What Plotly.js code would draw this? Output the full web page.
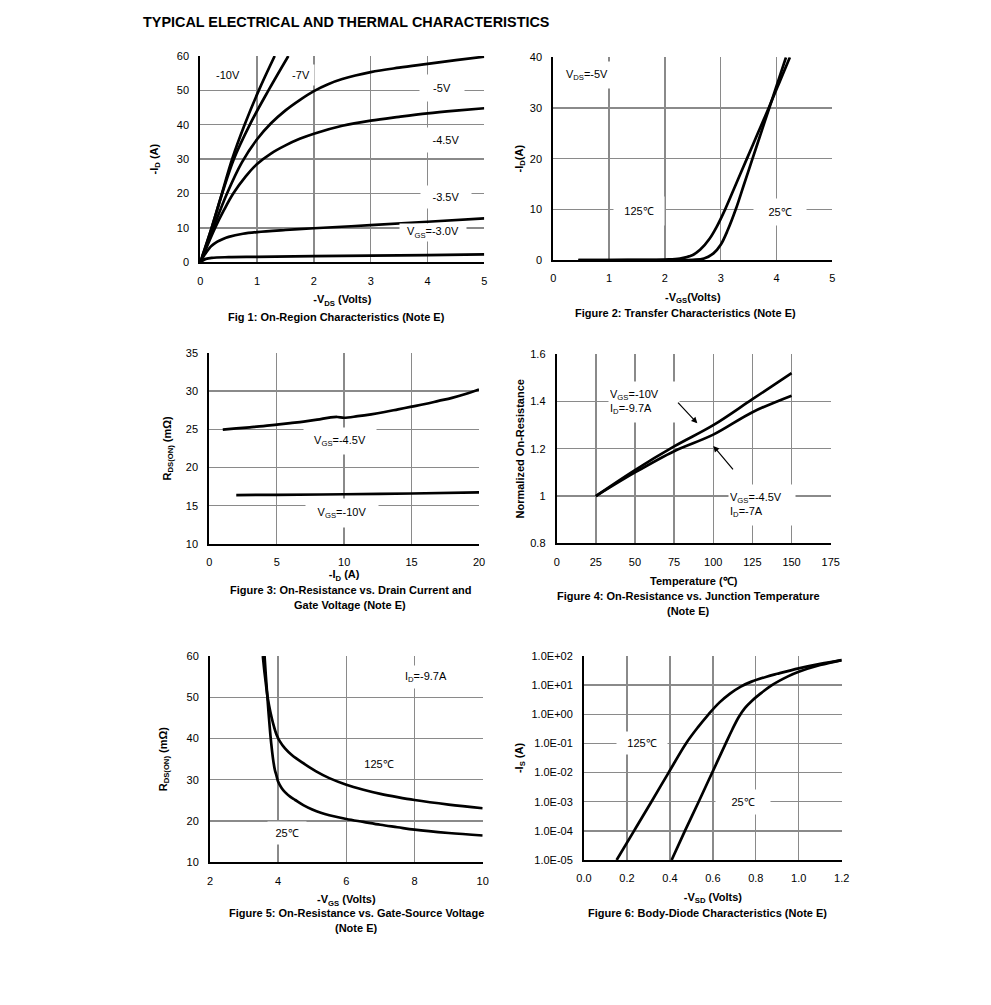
<!DOCTYPE html>
<html>
<head>
<meta charset="utf-8">
<script src="https://cdn.plot.ly/plotly-3.0.1.min.js"></script>
<style>html,body{margin:0;padding:0;background:#fff;}#chart{width:991px;height:1005px;}</style>
</head>
<body>
<div id="chart"></div>
<script>
// ---------- Data ----------
// Fig 1: On-region characteristics, -VDS (V) vs -ID (A)
const fig1_vds_10 = [0, 0.2, 0.38, 0.56, 0.78, 1.03, 1.31];
const fig1_id_10  = [0, 10, 20, 30, 40, 50, 60];
const fig1_vds_7  = [0, 0.2, 0.385, 0.59, 0.87, 1.2, 1.55];
const fig1_id_7   = [0, 10, 20, 30, 40, 50, 60];
const fig1_vds_5  = [0, 0.23, 0.47, 0.73, 1.0, 1.25, 1.5, 1.75, 2, 2.25, 2.5, 3, 3.5, 4, 4.5, 5];
const fig1_id_5   = [0, 10, 20, 29, 35.8, 40.5, 44.2, 47.2, 49.8, 51.8, 53.3, 55.3, 56.6, 57.7, 58.8, 59.8];
const fig1_vds_45 = [0, 0.26, 0.42, 0.58, 0.8, 1.0, 1.25, 1.5, 1.75, 2, 2.5, 3, 3.5, 4, 4.5, 5];
const fig1_id_45  = [0, 10, 15.3, 20, 25, 28.6, 31.7, 34, 35.9, 37.4, 39.7, 41.2, 42.3, 43.3, 44.1, 44.8];
const fig1_vds_35 = [0, 0.05, 0.1, 0.15, 0.2, 0.3, 0.4, 0.5, 0.75, 1, 1.5, 2, 3, 4, 5];
const fig1_id_35  = [0, 1.5, 2.8, 3.9, 4.8, 6.0, 6.8, 7.4, 8.3, 8.8, 9.4, 9.9, 10.8, 11.8, 12.8];
const fig1_vds_3  = [0, 0.05, 0.1, 0.2, 0.5, 1, 2, 3, 4, 5];
const fig1_id_3   = [0, 0.6, 1.0, 1.3, 1.5, 1.6, 1.8, 1.95, 2.1, 2.3];

// Fig 2: Transfer characteristics, -VGS (V) vs -ID (A)
const fig2_vgs_125 = [0.45, 1, 1.5, 2, 2.27, 2.5, 2.63, 2.8, 2.93, 3.08, 3.275, 3.47, 3.665, 3.86, 4.05, 4.24];
const fig2_id_125  = [0, 0, 0.02, 0.1, 0.3, 1.0, 2, 4.2, 6.6, 10, 15, 20, 25, 30, 35, 40];
const fig2_vgs_25  = [0.45, 1, 2, 2.5, 2.7, 2.87, 3.0, 3.13, 3.27, 3.42, 3.57, 3.72, 3.87, 4.02, 4.17];
const fig2_id_25   = [0, 0, 0, 0.05, 0.3, 1.3, 3.0, 6.0, 10, 15, 20, 25, 30, 35, 40];

// Fig 3: On-resistance vs drain current, -ID (A) vs RDS(ON) (mOhm)
const fig3_id_45  = [1, 2, 3, 4, 5, 6, 7, 8, 9, 9.5, 10, 11, 12, 13, 14, 15, 16, 17, 18, 19, 20];
const fig3_r_45   = [24.95, 25.1, 25.25, 25.4, 25.6, 25.8, 26, 26.25, 26.55, 26.6, 26.5, 26.7, 26.95, 27.25, 27.6, 27.95, 28.3, 28.7, 29.1, 29.6, 30.2];
const fig3_id_10  = [2, 5, 10, 15, 20];
const fig3_r_10   = [16.4, 16.42, 16.5, 16.6, 16.75];

// Fig 4: Normalized on-resistance vs temperature (C)
const fig4_temp   = [25, 50, 75, 100, 125, 150];
const fig4_r_10   = [1.0, 1.11, 1.21, 1.30, 1.41, 1.52];
const fig4_r_45   = [1.0, 1.10, 1.19, 1.26, 1.355, 1.425];

// Fig 5: On-resistance vs gate-source voltage, -VGS (V) vs RDS(ON) (mOhm)
const fig5_vgs_25  = [3.6, 3.64, 3.68, 3.72, 3.76, 3.8, 3.85, 3.9, 3.95, 4.0, 4.1, 4.2, 4.35, 4.5, 4.75, 5, 5.25, 5.5, 6, 6.5, 7, 7.5, 8, 9, 10];
const fig5_r_25    = [60, 55, 50.5, 46, 42, 38.5, 35, 32.5, 31, 29.5, 28, 27, 25.9, 25.1, 23.8, 22.8, 22.0, 21.4, 20.5, 19.8, 19.1, 18.5, 17.9, 17.1, 16.5];
const fig5_vgs_125 = [3.55, 3.6, 3.65, 3.7, 3.77, 3.85, 3.95, 4.05, 4.2, 4.4, 4.7, 5.1, 5.5, 6, 6.5, 7, 7.5, 8, 9, 10];
const fig5_r_125   = [60, 56, 52.5, 49.5, 46.5, 43.7, 41, 39.3, 37.6, 36, 34.2, 32.1, 30.4, 28.8, 27.6, 26.6, 25.8, 25.1, 24.0, 23.1];

// Fig 6: Body-diode characteristics, -VSD (V) vs -IS (A)
const fig6_vsd_125 = [0.152, 0.233, 0.314, 0.394, 0.475, 0.53, 0.58, 0.63, 0.68, 0.73, 0.78, 0.85, 0.9, 1.0, 1.1, 1.2];
const fig6_is_125  = [1e-5, 1e-4, 1e-3, 1e-2, 1e-1, 0.355, 1, 2.51, 5.13, 8.91, 13.2, 19.5, 24.5, 37.6, 53.7, 72.4];
const fig6_vsd_25  = [0.408, 0.47, 0.534, 0.597, 0.66, 0.69, 0.72, 0.75, 0.78, 0.82, 0.875, 0.95, 1.0, 1.1, 1.2];
const fig6_is_25   = [1e-5, 1e-4, 1e-3, 1e-2, 1e-1, 0.295, 0.794, 1.66, 2.82, 5.01, 10, 20, 28.8, 49, 72.4];
const fig6_tickvals = [1e-5, 1e-4, 1e-3, 1e-2, 1e-1, 1, 10, 100];
const fig6_ticktext = ['1.0E-05', '1.0E-04', '1.0E-03', '1.0E-02', '1.0E-01', '1.0E+00', '1.0E+01', '1.0E+02'];

// ---------- Layout ----------
const W = 991, H = 1005;
const FONT = 'Liberation Sans, Arial, Helvetica, sans-serif';
const dx = (a, b) => [a / W, b / W];
const dy = (top, bottom) => [1 - bottom / H, 1 - top / H];

const lineStyle = {color: '#000', width: 2.7, shape: 'spline', smoothing: 1.0};
function tr(x, y, xa, ya) {
  return {x: x, y: y, xaxis: xa, yaxis: ya, type: 'scatter', mode: 'lines',
          line: lineStyle, hoverinfo: 'skip', showlegend: false};
}

const traces = [
  tr(fig1_vds_10, fig1_id_10, 'x', 'y'),
  tr(fig1_vds_7, fig1_id_7, 'x', 'y'),
  tr(fig1_vds_5, fig1_id_5, 'x', 'y'),
  tr(fig1_vds_45, fig1_id_45, 'x', 'y'),
  tr(fig1_vds_35, fig1_id_35, 'x', 'y'),
  tr(fig1_vds_3, fig1_id_3, 'x', 'y'),
  tr(fig2_vgs_125, fig2_id_125, 'x2', 'y2'),
  tr(fig2_vgs_25, fig2_id_25, 'x2', 'y2'),
  tr(fig3_id_45, fig3_r_45, 'x3', 'y3'),
  tr(fig3_id_10, fig3_r_10, 'x3', 'y3'),
  tr(fig4_temp, fig4_r_10, 'x4', 'y4'),
  tr(fig4_temp, fig4_r_45, 'x4', 'y4'),
  tr(fig5_vgs_25, fig5_r_25, 'x5', 'y5'),
  tr(fig5_vgs_125, fig5_r_125, 'x5', 'y5'),
  tr(fig6_vsd_125, fig6_is_125, 'x6', 'y6'),
  tr(fig6_vsd_25, fig6_is_25, 'x6', 'y6')
];

function axis(domain, range, dtick, title, standoff, anchor, extra) {
  return Object.assign({
    domain: domain, range: range, dtick: dtick, tick0: range[0],
    anchor: anchor, showgrid: true, gridcolor: '#8a8a8a', gridwidth: 1.4,
    zeroline: false, showline: true, linecolor: '#000', linewidth: 2,
    ticks: '', ticklabelstandoff: 7, fixedrange: true,
    tickfont: {family: FONT, size: 11, color: '#000'},
    title: {text: title, standoff: standoff, font: {family: FONT, size: 11, color: '#000'}}
  }, extra || {});
}

function lbl(text, x, y, xr, yr, w, h, extra) {
  return Object.assign({text: text, x: x, y: y, xref: xr, yref: yr, showarrow: false,
    xanchor: 'center', yanchor: 'middle',
    bgcolor: '#fff', width: w, height: h, font: {family: FONT, size: 11, color: '#000'}}, extra || {});
}
function cap(text, px, py, size, extra) {
  return Object.assign({text: text, x: px / W, y: 1 - py / H, xref: 'paper', yref: 'paper',
    xanchor: 'center', yanchor: 'middle',
    showarrow: false, font: {family: FONT, size: size || 11, color: '#000'}}, extra || {});
}

const annotations = [
  cap('<b>TYPICAL ELECTRICAL AND THERMAL CHARACTERISTICS</b>', 141, 22, 14.4, {xanchor: 'left'}),
  // Fig 1
  lbl('-10V', 0.49, 54.5, 'x', 'y', 30, 18),
  lbl('-7V', 1.77, 54.5, 'x', 'y', 24, 18),
  lbl('-5V', 4.255, 50.7, 'x', 'y', 42, 24),
  lbl('-4.5V', 4.326, 35.6, 'x', 'y', 44, 22),
  lbl('-3.5V', 4.326, 19.0, 'x', 'y', 48, 20),
  lbl('V<sub>GS</sub>=-3.0V', 4.09, 8.6, 'x', 'y', 64, 15),
  cap('<b>Fig 1: On-Region Characteristics (Note E)</b>', 336, 317),
  // Fig 2
  lbl('V<sub>DS</sub>=-5V', 0.595, 36.5, 'x2', 'y2', 54, 24),
  lbl('125\u2103', 1.536, 9.67, 'x2', 'y2', 48, 26),
  lbl('25\u2103', 4.063, 9.47, 'x2', 'y2', 50, 24),
  cap('<b>Figure 2: Transfer Characteristics (Note E)</b>', 685, 313),
  // Fig 3
  lbl('V<sub>GS</sub>=-4.5V', 9.69, 23.46, 'x3', 'y3', 70, 24),
  lbl('V<sub>GS</sub>=-10V', 9.87, 14.05, 'x3', 'y3', 70, 26),
  cap('<b>Figure 3: On-Resistance vs. Drain Current and</b>', 350, 590),
  cap('<b>Gate Voltage (Note E)</b>', 350, 605),
  // Fig 4
  lbl('V<sub>GS</sub>=-10V<br>I<sub>D</sub>=-9.7A', 32.8, 1.399, 'x4', 'y4', 68, 38, {xanchor: 'left', align: 'left'}),
  lbl('V<sub>GS</sub>=-4.5V<br>I<sub>D</sub>=-7A', 109.4, 0.963, 'x4', 'y4', 64, 38, {xanchor: 'left', align: 'left'}),
  {x: 89.8, y: 1.308, ax: 76.6, ay: 1.402, xref: 'x4', yref: 'y4', axref: 'x4', ayref: 'y4',
   text: '', showarrow: true, arrowhead: 2, arrowsize: 1, arrowwidth: 1.2, arrowcolor: '#000'},
  {x: 100, y: 1.212, ax: 113.4, ay: 1.107, xref: 'x4', yref: 'y4', axref: 'x4', ayref: 'y4',
   text: '', showarrow: true, arrowhead: 2, arrowsize: 1, arrowwidth: 1.2, arrowcolor: '#000'},
  cap('<b>Figure 4: On-Resistance vs. Junction Temperature</b>', 688, 596),
  cap('<b>(Note E)</b>', 688, 611),
  // Fig 5
  lbl('I<sub>D</sub>=-9.7A', 8.33, 54.84, 'x5', 'y5', 48, 20),
  lbl('125\u2103', 6.97, 33.8, 'x5', 'y5', 40, 20),
  lbl('25\u2103', 4.26, 17.17, 'x5', 'y5', 36, 20),
  cap('<b>Figure 5: On-Resistance vs. Gate-Source Voltage</b>', 356, 913),
  cap('<b>(Note E)</b>', 356, 928),
  // Fig 6
  lbl('125\u2103', 0.269, -1.0, 'x6', 'y6', 48, 20),
  lbl('25\u2103', 0.742, -3.01, 'x6', 'y6', 52, 22),
  cap('<b>Figure 6: Body-Diode Characteristics (Note E)</b>', 707, 913)
];

const layout = {
  width: W, height: H, margin: {l: 0, r: 0, t: 0, b: 0},
  paper_bgcolor: '#fff', plot_bgcolor: '#fff', showlegend: false,
  font: {family: FONT, size: 11, color: '#000'},
  xaxis:  axis(dx(200.3, 484.3), [0, 5], 1, '<b>-V<sub>DS</sub> (Volts)</b>', 10, 'y'),
  yaxis:  axis(dy(56, 262.3), [0, 60], 10, '<b>-I<sub>D</sub> (A)</b>', 16, 'x'),
  xaxis2: axis(dx(553.3, 832.3), [0, 5], 1, '<b>-V<sub>GS</sub>(Volts)</b>', 10, 'y2'),
  yaxis2: axis(dy(57.3, 260), [0, 40], 10, '<b>-I<sub>D</sub>(A)</b>', 4, 'x2'),
  xaxis3: axis(dx(209.3, 479), [0, 20], 5, '<b>-I<sub>D</sub> (A)</b>', 2, 'y3'),
  yaxis3: axis(dy(352.7, 544), [10, 35], 5, '<b>R<sub>DS(ON)</sub> (mΩ)</b>', 12, 'x3'),
  xaxis4: axis(dx(556.7, 830.7), [0, 175], 25, '<b>Temperature (\u2103)</b>', 11, 'y4'),
  yaxis4: axis(dy(354.3, 543.3), [0.8, 1.6], 0.2, '<b>Normalized On-Resistance</b>', 3, 'x4'),
  xaxis5: axis(dx(210, 482.7), [2, 10], 2, '<b>-V<sub>GS</sub> (Volts)</b>', 10, 'y5'),
  yaxis5: axis(dy(656, 862.3), [10, 60], 10, '<b>R<sub>DS(ON)</sub> (mΩ)</b>', 17, 'x5'),
  xaxis6: axis(dx(584, 841.7), [0, 1.2], 0.2, '<b>-V<sub>SD</sub> (Volts)</b>', 10, 'y6', {tickformat: '.1f'}),
  yaxis6: axis(dy(656, 860), [-5, 2], null, '<b>-I<sub>S</sub> (A)</b>', 6, 'x6',
               {type: 'log', tickmode: 'array', tickvals: fig6_tickvals, ticktext: fig6_ticktext}),
  annotations: annotations
};

Plotly.newPlot('chart', traces, layout, {displayModeBar: false, staticPlot: true});
</script>
</body>
</html>
